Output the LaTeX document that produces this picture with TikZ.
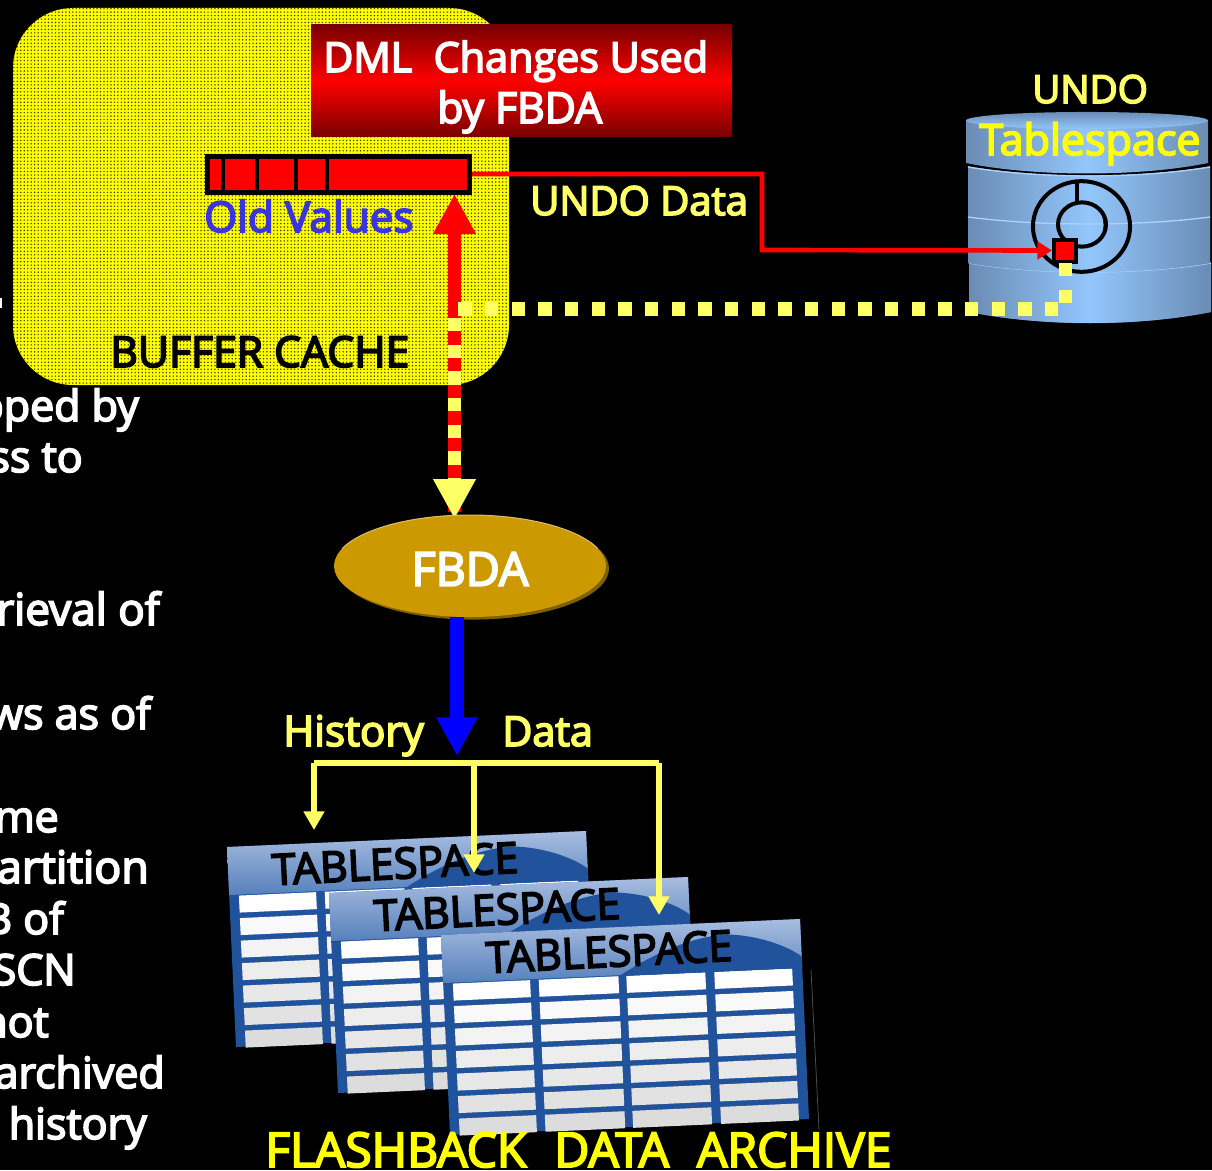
\documentclass[tikz,border=0pt]{standalone}
\usepackage{fontspec}
\setmainfont[RawFeature={embolden=4}]{Open Sans}
\usetikzlibrary{arrows.meta,shapes.geometric,patterns.meta}
\definecolor{paleY}{HTML}{FFFF66}
\definecolor{pureY}{HTML}{FFFF00}
\definecolor{oldBlue}{HTML}{3A34E0}
\definecolor{gold}{HTML}{CC9900}
\definecolor{goldDark}{HTML}{7F6000}
\definecolor{goldLight}{HTML}{DDBB66}
\definecolor{tblBlue}{HTML}{21529C}
\definecolor{hdTop}{HTML}{A8BEE0}
\definecolor{hdBot}{HTML}{5680BC}
\definecolor{cellGray}{HTML}{D8D8D8}
\definecolor{cylEdge}{HTML}{6A8CB4}
\definecolor{cylMid}{HTML}{93C6FC}
\definecolor{cylLine}{HTML}{A9D2FF}
\definecolor{darkRed}{HTML}{780000}
\newcommand\fs[1]{\fontsize{#1}{#1}\selectfont}
\tikzset{
  lbl/.style={anchor=base west,inner sep=0pt,font=\fs{31}},
  whitetxt/.style={lbl,text=white},
  sidetxt/.style={whitetxt,anchor=base east,font=\fs{32.2}},
  tbltxt/.style={anchor=center,inner sep=0pt,text=black,rotate=2.9,font=\fs{32.2}},
  redline/.style={draw=red,line width=3.5pt},
  yline/.style={draw=paleY,line width=4pt},
  thickarrow/.style={line width=9.8pt},
  dotted yellow/.style={draw=paleY,line width=10pt,dash pattern=on 10pt off 10pt},
  cylbody/.style={left color=cylEdge,right color=cylEdge,middle color=cylMid},
  ringline/.style={draw=black,line width=3pt}
}
\newcommand\tbl[3]{%
  \begin{scope}[shift={(#1,#2)},x={(269.25pt,12pt)},y={(6.75pt,-150pt)}]
    \fill[tblBlue] (0,0)--(1,0)--(1,1)--(0,1)--cycle;
    \foreach \r in {0,...,6}{
      \pgfmathsetmacro\wh{100-15*\r}
      \pgfmathsetmacro\vt{.245+.1125*\r}
      \pgfmathsetmacro\vb{.33+.1125*\r}
      \foreach \a/\b in {.027/.242,.266/.488,.51/.73,.755/.972}{
        \fill[white!\wh!cellGray] (\a,\vt)--(\b,\vt)--(\b,\vb)--(\a,\vb)--cycle;
      }
    }
    \shade[top color=hdTop,bottom color=hdBot] (0,0)--(1,0)--(1,.24)--(0,.24)--cycle;
    \fill[tblBlue] (.49,.245) .. controls (.58,.15) and (.68,.07) .. (.79,.06) .. controls (.88,.07) and (.96,.13) .. (1,.187) -- (1,.245) -- cycle;
    \node[tbltxt] (#3) at (.465,.12) {TABLESPACE};
  \end{scope}}
\newcommand\cylsec[7]{% x0 x1 ytop sagtop ybot sagbot name
  \shade[cylbody] (#1,#3) .. controls (#1+70,#3+#4*1.33) and (#2-70,#3+#4*1.33) .. (#2,#3)
     -- (#2,#5) .. controls (#2-70,#5+#6*1.33) and (#1+70,#5+#6*1.33) .. (#1,#5) -- cycle;
  \draw[cylLine,line width=1pt] (#1,#3) .. controls (#1+70,#3+#4*1.33) and (#2-70,#3+#4*1.33) .. (#2,#3);}
\begin{document}
\begin{tikzpicture}[x=0.75pt,y=-0.75pt]
\fill[black] (0,0) rectangle (1212,1170);
\useasboundingbox (0,0) rectangle (1212,1170);
\clip (0,0) rectangle (1212,1170);

% left text, cut by the edge
\fill[white] (0,298) rectangle (2,308);
\node[sidetxt] (t1) at (139,421) {opped by};
\node[sidetxt] (t2) at (83,472) {ss to};
\node[sidetxt,font=\fs{33}] (t3) at (160,625) {rieval of};
\node[sidetxt] (t4) at (151,729) {ws as of};
\node[sidetxt] (t5) at (59,832) {me};
\node[sidetxt,font=\fs{33.5}] (t6) at (149,883) {artition};
\node[sidetxt] (t7) at (64,934) {B of};
\node[sidetxt] (t8) at (76,985) {SCN};
\node[sidetxt] (t9) at (49,1037) {not};
\node[sidetxt] (t10) at (165,1088) {archived};
\node[sidetxt] (t11) at (147,1139) {history};

% buffer cache
\fill[pureY,rounded corners=45pt] (13,8) rectangle (509,385);
\fill[rounded corners=45pt,pattern={Dots[radius=0.62pt,distance=2.6pt]},pattern color=black!75!pureY] (13,8) rectangle (509,385);
\node[lbl,text=black,font=\fs{32}] (bc) at (110,367) {BUFFER CACHE};

% DML box
\shade[top color=darkRed,bottom color=darkRed,middle color=red] (311,25) rectangle (732,137);
\node[whitetxt] (dml) at (323,72) {DML\ \ Changes Used};
\node[whitetxt,font=\fs{32}] (dml2) at (437,123) {by FBDA};

% cylinder
\fill[cylEdge] (969,263) -- (1211,263) -- (1211,312) .. controls (1130,327) and (1050,327) .. (969,312) -- cycle;
\cylsec{969}{1211}{263}{9}{312}{11}{s4}
\cylsec{968}{1210}{217}{7}{263}{9}{s3}
\cylsec{968}{1210}{167}{9}{217}{7}{s2}
\shade[cylbody] (966,121) -- (1208,121) -- (1208,163) .. controls (1140,177) and (1034,177) .. (966,163) -- cycle;
\cylsec{968}{1210}{167}{9}{217}{7}{s2b}
\cylsec{968}{1210}{217}{7}{263}{9}{s3b}
\shade[top color=cylEdge,bottom color=cylMid] (1087,120.5) ellipse [x radius=90.75pt,y radius=6.4pt];
\node[lbl,text=paleY,font=\fs{29}] (undo) at (1032,103) {UNDO};
\node[lbl,text=pureY,font=\fs{32.3}] (ts) at (979,155) {Tablespace};

% disk rings
\draw[ringline] (1081.5,226.5) ellipse [x radius=36.4pt,y radius=34pt];
\draw[ringline] (1082,224.5) ellipse [x radius=18pt,y radius=16.6pt];
\draw[draw=black,line width=1pt] (1090,203) .. controls (1104,208) and (1107,222) .. (1102,238);
\coordinate (ringT) at (1076.7,183);
\coordinate (ringB) at (1076.7,203);
\draw[ringline] (ringT) -- (ringB);

% old values bar
\node[draw=black,fill=red,line width=3.6pt,minimum width=197pt,minimum height=27.5pt,inner sep=0pt] (bar) at (338.5,174.5) {};
\foreach \tx in {223,257,296,327}{\fill[black] (\tx-2,158) rectangle (\tx+2,191);}
\node[lbl,text=oldBlue,font=\fs{31.8}] (old) at (204,232) {Old Values};

% red square
\node[draw=black,fill=red,line width=3pt,minimum width=16.5pt,minimum height=16.5pt,inner sep=0pt] (sq) at (1065,250.5) {};

% undo data line
\coordinate (rc1) at (762,174);
\coordinate (rc2) at (762,250);
\draw[redline,-{Triangle[length=11pt,width=13pt]}] (bar.east |- 0,174) -- (rc1) -- (rc2) -- (sq.west);
\node[lbl,text=paleY,font=\fs{30}] (ud) at (530,215) {UNDO Data};

% vertical red/yellow double arrow
\coordinate (vTop) at (454.5,194);
\coordinate (vMid) at (454.5,318);
\coordinate (vRedEnd) at (454.5,512);
\coordinate (vDash) at (454.5,478);
\coordinate (vHead) at (454.5,519);
\draw[draw=red,thickarrow] (vMid) -- (vRedEnd);
\draw[draw=red,thickarrow,-{Triangle[length=30pt,width=30pt]}] (vMid) -- (vTop);
\draw[draw=paleY,thickarrow,dash pattern=on 10pt off 10pt] (vMid) -- (vDash);
\draw[draw=paleY,thickarrow,-{Triangle[length=30pt,width=30pt]}] (454.5,478) -- (vHead);

% dotted line from undo tablespace
\coordinate (dc1) at (1065.5,263);
\coordinate (dc2) at (1065.5,309);
\coordinate (dc3) at (458,309);
\draw[dotted yellow] (dc1) -- (dc2) -- (dc3);

% FBDA
\fill[goldDark] (473,568.5) ellipse [x radius=102pt,y radius=38.3pt];
\node[ellipse,fill=gold,minimum width=204pt,minimum height=76.5pt,inner sep=0pt] (fbda) at (470,566) {};
\coordinate (arcS) at (342.2,548.6);
\draw[goldLight,line width=.8pt] (arcS) arc [start angle=160,end angle=20,x radius=102pt,y radius=38.25pt];
\node[whitetxt,anchor=center,font=\fs{35}] (fbdat) at (470,569) {FBDA};

% tables
\tbl{227}{847}{tA}
\tbl{329}{893}{tB}
\tbl{441}{935}{tC}
\draw[draw=black!70!white,line width=.6pt] (811,970) -- (819,1130);

% history connector
\coordinate (bTip) at (457,756);
\coordinate (hL) at (314,763);
\coordinate (hM) at (474,763);
\coordinate (hR) at (659,763);
\coordinate (aL) at (314,830);
\coordinate (aM) at (474,873);
\coordinate (aR) at (659,915);
\draw[yline] (hL) -- (hR);
\draw[yline,-{Triangle[length=14pt,width=15pt]}] (hL) -- (aL);
\draw[yline,-{Triangle[length=14pt,width=15pt]}] (hM) -- (aM);
\draw[yline,-{Triangle[length=14pt,width=15pt]}] (hR) -- (aR);
\draw[draw=blue,thickarrow,-{Triangle[length=29pt,width=29pt]}] (fbda.south -| bTip) -- (bTip);
\node[lbl,text=paleY,font=\fs{31.6}] (his) at (283,746) {History};
\node[lbl,text=paleY] (dat) at (502,746) {Data};

\node[lbl,text=pureY,font=\fs{36}] (fa) at (265,1167) {FLASHBACK\hspace{21pt}DATA\hspace{21pt}ARCHIVE};
\end{tikzpicture}
\end{document}
